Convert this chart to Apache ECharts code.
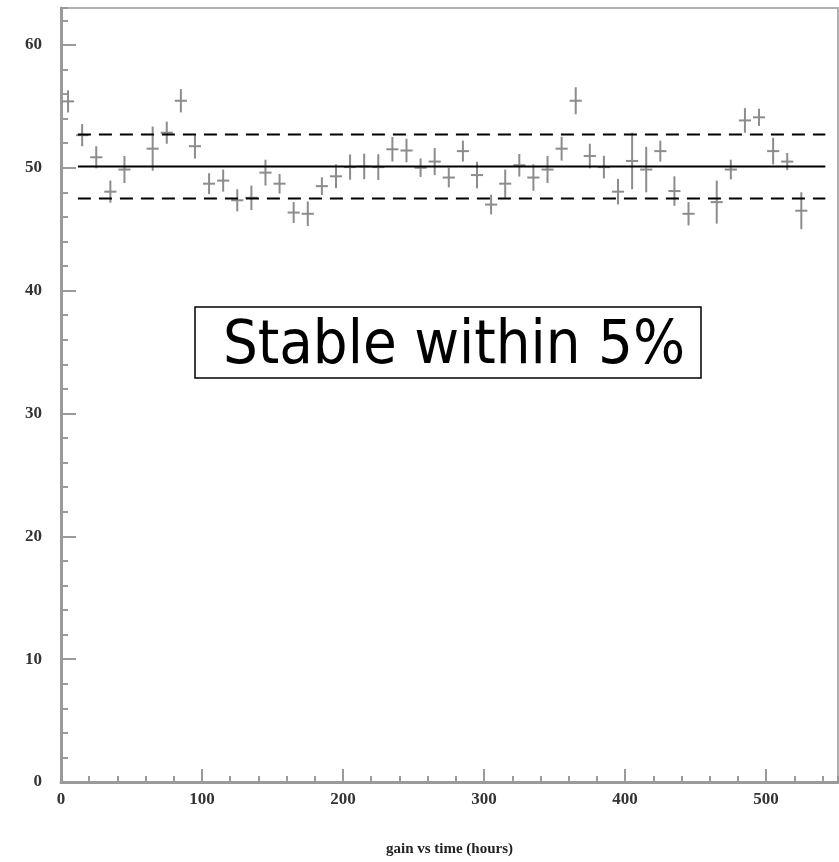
<!DOCTYPE html>
<html>
<head>
<meta charset="utf-8">
<style>
  html, body { margin: 0; padding: 0; background: #fff; }
  #main { width: 839px; height: 862px; }
</style>
<script src="https://cdn.jsdelivr.net/npm/echarts@6/dist/echarts.min.js"></script>
</head>
<body>
<div id="main"></div>
<script>
let hours = [5, 15, 25, 35, 45, 65, 75, 85, 95, 105, 115, 125, 135, 145, 155, 165, 175, 185, 195,
  205, 215, 225, 235, 245, 255, 265, 275, 285, 295, 305, 315, 325, 335, 345, 355, 365, 375,
  385, 395, 405, 415, 425, 435, 445, 465, 475, 485, 495, 505, 515, 525];
let gain = [55.4, 52.65, 50.85, 48.05, 49.85, 51.55, 52.85, 55.45, 51.75, 48.7, 48.95, 47.35,
  47.55, 49.6, 48.7, 46.35, 46.25, 48.5, 49.3, 50.05, 50.1, 50.05, 51.5, 51.4, 50.0, 50.5,
  49.2, 51.35, 49.4, 47.0, 48.7, 50.2, 49.2, 49.85, 51.55, 55.45, 50.95, 50.05, 48.05, 50.55,
  49.85, 51.35, 48.1, 46.25, 47.2, 49.85, 53.85, 54.1, 51.35, 50.5, 46.5];
let gainErr = [0.9, 0.9, 0.9, 0.9, 1.1, 1.8, 0.9, 0.95, 1.0, 0.85, 0.9, 0.9, 1.0, 1.05, 0.8,
  0.85, 1.0, 0.72, 0.97, 1.03, 1.04, 1.05, 1.0, 0.95, 0.75, 1.1, 0.8, 0.85, 1.08, 0.8, 1.15,
  0.92, 1.08, 1.1, 0.97, 1.1, 1.0, 0.92, 1.04, 2.3, 1.85, 0.85, 1.2, 0.95, 1.75, 0.8, 1.0,
  0.7, 1.08, 0.7, 1.5];
let hourErr = 4.3;

let meanGain = 50.1;
let bandLow = 47.5;
let bandHigh = 52.7;
let lineRange = [12, 542];

let yTicks = [0, 10, 20, 30, 40, 50, 60];

let myChart = echarts.init(document.getElementById('main'));

let points = hours.map((h, i) => [h, gain[i], gainErr[i]]);
let axisGray = '#9a9a9a';
let labelFont = {
  fontFamily: 'Liberation Serif',
  fontWeight: 'bold',
  fontSize: 17,
  color: '#333'
};

function hLine(y, dashed) {
  return {
    type: 'line',
    xAxisIndex: 0,
    yAxisIndex: 0,
    data: lineRange.map(x => [x, y]),
    symbol: 'none',
    silent: true,
    lineStyle: {
      color: '#000',
      width: 2,
      type: dashed ? [13, 8] : 'solid'
    },
    z: 3
  };
}

let option = {
  animation: false,
  grid: {
    left: 61, top: 8, right: 1, bottom: 79,
    show: true,
    borderColor: '#b0b0b0',
    borderWidth: 2
  },
  xAxis: [{
    type: 'value',
    min: 0, max: 551, interval: 100,
    name: 'gain vs time (hours)',
    nameLocation: 'middle',
    nameGap: 60,
    nameTextStyle: Object.assign({}, labelFont, { fontSize: 15, color: '#222' }),
    axisLine: { lineStyle: { color: axisGray, width: 3 } },
    axisTick: { inside: true, length: 13, lineStyle: { color: axisGray, width: 2 } },
    axisLabel: Object.assign({ margin: 9, showMaxLabel: false }, labelFont),
    splitLine: { show: false }
  }, {
    // minor ticks every 20 h
    type: 'value',
    position: 'bottom',
    min: 0, max: 551, interval: 20,
    axisLine: { show: false },
    axisTick: { inside: true, length: 6, lineStyle: { color: axisGray, width: 2 } },
    axisLabel: { show: false },
    splitLine: { show: false }
  }],
  yAxis: [{
    type: 'value',
    min: 0, max: 63, interval: 10,
    axisLine: { show: true, lineStyle: { color: axisGray, width: 3 } },
    axisTick: { show: true, inside: true, length: 15, lineStyle: { color: axisGray, width: 2 } },
    axisLabel: Object.assign({ margin: 19, showMaxLabel: false,
      formatter: v => yTicks.indexOf(v) >= 0 ? String(v) : '' }, labelFont),
    splitLine: { show: false }
  }, {
    // minor ticks every 2
    type: 'value',
    position: 'left',
    min: 0, max: 63, interval: 2,
    axisLine: { show: false },
    axisTick: { show: true, inside: true, length: 7, lineStyle: { color: axisGray, width: 2 } },
    axisLabel: { show: false },
    splitLine: { show: false }
  }],
  series: [
    {
      type: 'custom',
      xAxisIndex: 0,
      yAxisIndex: 0,
      data: points,
      renderItem: function (params, api) {
        let x = api.value(0), y = api.value(1), e = api.value(2);
        let left = api.coord([x - hourErr, y]);
        let right = api.coord([x + hourErr, y]);
        let top = api.coord([x, y + e]);
        let bottom = api.coord([x, y - e]);
        let st = { stroke: '#8c8c8c', lineWidth: 2 };
        return {
          type: 'group',
          children: [
            { type: 'line', shape: { x1: left[0], y1: left[1], x2: right[0], y2: right[1] }, style: st },
            { type: 'line', shape: { x1: top[0], y1: top[1], x2: bottom[0], y2: bottom[1] }, style: st }
          ]
        };
      },
      z: 2
    },
    hLine(meanGain, false),
    hLine(bandHigh, true),
    hLine(bandLow, true)
  ],
  graphic: [{
    type: 'rect',
    shape: { x: 195, y: 307, width: 506, height: 71 },
    style: { fill: '#fff', stroke: '#000', lineWidth: 1.5 },
    z: 10
  }, {
    type: 'text',
    x: 454, y: 347,
    style: {
      text: 'Stable within 5%',
      font: '61px "DejaVu Sans Condensed", "DejaVu Sans", sans-serif',
      fill: '#000',
      align: 'center',
      verticalAlign: 'middle'
    },
    z: 11
  }]
};

myChart.setOption(option);
</script>
</body>
</html>
